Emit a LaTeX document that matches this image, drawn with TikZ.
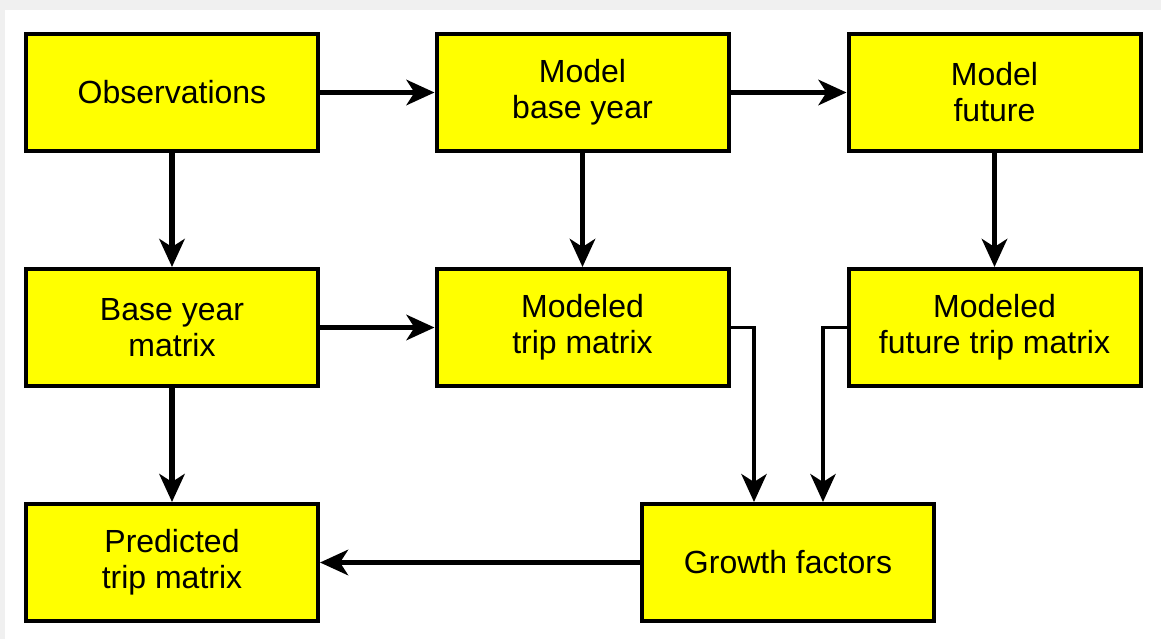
\documentclass[tikz,border=0pt]{standalone}
\usepackage{fontspec}
\setmainfont{Liberation Sans}
\usetikzlibrary{arrows.meta}
\definecolor{boxyellow}{RGB}{255,255,0}

\begin{document}
\begin{tikzpicture}[x=0.75pt,y=0.75pt,yscale=-1,xscale=1,
  stepbox/.style={draw=black, line width=3pt, fill=boxyellow, minimum width=219pt, minimum height=87.75pt, inner sep=0pt, align=center, font=\fontsize{24}{27}\selectfont},
  flow/.style={line width=4.4pt, -{Stealth[length=21pt,width=19pt,inset=6pt]}},
  elbow/.style={line width=2.8pt, -{Stealth[length=21pt,width=19pt,inset=6pt]}}]
%set diagram left start at 0, and has height of 639
\useasboundingbox (0,0) rectangle (1161,639);
\fill[black!6] (0,0) rectangle (1161,639);
\fill[white] (5,10) rectangle (1161,639);

%Flowchart: Process
\node[stepbox] (obs) at (172,92.5) {Observations};
%Flowchart: Process
\node[stepbox] (mby) at (582.5,92.5) {Model\\base year};
%Flowchart: Process
\node[stepbox] (mfut) at (994.5,92.5) {Model\\future};
%Flowchart: Process
\node[stepbox] (bym) at (172,327.5) {Base year\\matrix};
%Flowchart: Process
\node[stepbox] (mtm) at (582.5,327.5) {Modeled\\trip matrix};
%Flowchart: Process
\node[stepbox] (mftm) at (994.5,327.5) {Modeled\\future trip matrix};
%Flowchart: Process
\node[stepbox] (ptm) at (172,562.5) {Predicted\\trip matrix};
%Flowchart: Process
\node[stepbox] (gf) at (788,562.5) {Growth factors};

%Straight Lines
\draw[flow] (obs) -- (mby);
\draw[flow] (mby) -- (mfut);
\draw[flow] (obs) -- (bym);
\draw[flow] (mby) -- (mtm);
\draw[flow] (mfut) -- (mftm);
\draw[flow] (bym) -- (mtm);
\draw[flow] (bym) -- (ptm);
\draw[flow] (gf) -- (ptm);

%Elbow Lines
\draw[elbow] (mtm.east) -| (754,0 |- gf.north);
\draw[elbow] (mftm.west) -| (823,0 |- gf.north);

\end{tikzpicture}
\end{document}
